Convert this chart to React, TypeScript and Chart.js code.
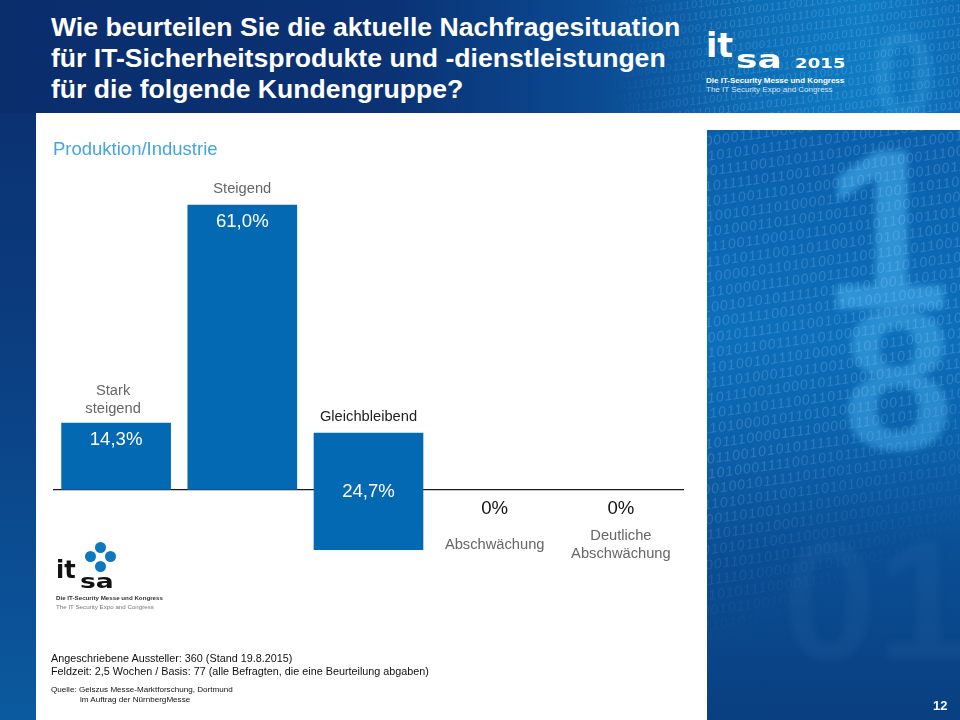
import React, { useEffect, useRef } from "react";
import { Chart, registerables } from "chart.js";

Chart.register(...registerables);

const categories: string[][] = [["Stark", "steigend"], ["Steigend"], ["Gleichbleibend"], ["Abschwächung"], ["Deutliche", "Abschwächung"]];
const barHigh = [14.3, 61.0, 12.2, 0, 0];
const barLow = [0, 0, -12.8, 0, 0];
const valueLabels = ["14,3%", "61,0%", "24,7%", "0%", "0%"];
const titleLines = ["Wie beurteilen Sie die aktuelle Nachfragesituation", "für IT-Sicherheitsprodukte und -dienstleistungen", "für die folgende Kundengruppe?"];
const binaryRows = [
  "00110001010111001100010111001010110001101010100011011010111001101100",
  "10101000110110101110011011001010101110010100101111010000101101010011",
  "01001011110100001011010100111001101011001011001010111000011110000111",
  "10110010101110000111100001110010110100110110100101100101010111110110",
  "01101001011001010101111101101010011101011101011010100011110010101110",
  "11010110101000111100101011101001100101100010011001001011111011001011",
  "00100110010010111110110010110110101000111001101110101011001110101000",
  "10011011101010110011101010001101011100100111001001101001011101000011",
  "01110010011010010111010000110101100111011010111110111010001101100100",
  "10101111101110100011011001001101010001110011000101011100110001011100",
];
const FONT = "'Liberation Sans', Arial, sans-serif";
const WIDE = "'DejaVu Sans', sans-serif";

const labelPlugin = {
  id: "barTexts",
  afterDatasetsDraw(chart: any) {
    const { ctx, scales } = chart;
    const y0 = scales.y.getPixelForValue(0);
    ctx.save();
    ctx.textAlign = "center";
    ctx.textBaseline = "middle";
    categories.forEach((lines, i) => {
      const x = scales.x.getPixelForValue(i);
      const top = scales.y.getPixelForValue(barHigh[i]);
      const isZero = barHigh[i] === 0;
      const crosses = barLow[i] < 0;
      ctx.font = `18.6px ${FONT}`;
      ctx.fillStyle = isZero ? "#111111" : "#ffffff";
      ctx.fillText(valueLabels[i], x, isZero ? y0 + 18.5 : crosses ? y0 + 1.5 : top + 16.5);
      ctx.font = `14.7px ${FONT}`;
      ctx.fillStyle = crosses ? "#222222" : "#666666";
      lines.forEach((line, k) => {
        const ly = isZero
          ? y0 + 55 + (k - (lines.length - 1) / 2) * 18
          : top - (lines.length > 1 ? 14 : 16) - (lines.length - 1 - k) * 18;
        ctx.fillText(line, !isZero && lines.length > 1 ? x - 3 : x, ly);
      });
    });
    ctx.restore();
  },
};

const abs = (left: number, top: number, extra: React.CSSProperties = {}): React.CSSProperties => ({
  position: "absolute", left, top, whiteSpace: "nowrap", ...extra,
});

function Binary({ size, opacity, angle }: { size: number; opacity: number; angle: number }) {
  const rows: string[] = [];
  for (let r = 0; r < 6; r++) binaryRows.forEach((b) => rows.push(b));
  return (
    <div style={{ position: "absolute", left: -60, top: -70, transform: `rotate(${angle}deg)`, fontFamily: FONT, fontStyle: "italic", fontSize: size, lineHeight: `${size + 1}px`, letterSpacing: 1, color: `rgba(190,225,255,${opacity})` }}>
      {rows.map((r, i) => <div key={i}>{r}</div>)}
    </div>
  );
}

function Ghost({ text, left, top, size, color }: { text: string; left: number; top: number; size: number; color: string }) {
  return <div style={abs(left, top, { fontFamily: FONT, fontWeight: 700, fontSize: size, lineHeight: 1, color, filter: "blur(3px)" })}>{text}</div>;
}

export default function App() {
  const ref = useRef<HTMLCanvasElement>(null);
  useEffect(() => {
    const chart = new Chart(ref.current!, {
      type: "bar",
      data: {
        labels: categories.map((c) => c.join(" ")),
        datasets: [{
          data: barHigh.map((h, i) => (h === barLow[i] ? null : [barLow[i], h])),
          backgroundColor: "#0469B3",
          borderWidth: 0,
          barThickness: 109,
        }],
      },
      options: {
        animation: false,
        responsive: false,
        layout: { padding: { left: 53, right: 276, top: 186.3, bottom: 136.6 } },
        plugins: { legend: { display: false }, tooltip: { enabled: false } },
        scales: {
          x: { display: false },
          y: {
            min: -20, max: 65,
            ticks: { display: false, stepSize: 5 },
            border: { display: false },
            grid: {
              drawTicks: false,
              lineWidth: 1.3,
              color: (c: any) => (c.tick && c.tick.value === 0 ? "#1a1a1a" : "rgba(0,0,0,0)"),
            },
          },
        },
      },
      plugins: [labelPlugin],
    } as any);
    return () => chart.destroy();
  }, []);

  return (
    <div style={{ position: "fixed", left: 0, top: 0, width: 960, height: 720, overflow: "hidden", fontFamily: FONT, background: "linear-gradient(180deg,#0a2d6c 0%,#0b3a7c 40%,#0b5197 85%,#0b5a9f 100%)" }}>
      {/* header band */}
      <div style={{ position: "absolute", left: 0, top: 0, width: 960, height: 113, overflow: "hidden", background: "linear-gradient(90deg,#0a2d6c 0%,#0a3274 40%,#0b4a92 62%,#0c6db5 78%,#0f7cc4 90%,#0c6cb6 100%)" }}>
        <div style={{ position: "absolute", left: 600, top: 0, width: 360, height: 113, overflow: "hidden", WebkitMaskImage: "linear-gradient(90deg,transparent 0%,black 35%)", maskImage: "linear-gradient(90deg,transparent 0%,black 35%)" }}>
          <Ghost text="0" left={270} top={15} size={120} color="rgba(90,190,245,0.2)" />
          <Binary size={11} opacity={0.2} angle={-7} />
        </div>
      </div>
      {titleLines.map((t, i) => (
        <div key={i} style={abs(51, 12 + i * 31, { color: "#fff", fontWeight: 700, fontSize: 26.6, lineHeight: "31px" })}>{t}</div>
      ))}
      {/* top logo */}
      <div style={abs(706, 29, { color: "#fff", fontWeight: 700, fontFamily: WIDE, fontSize: 33, lineHeight: "34px" })}>it</div>
      <div style={abs(736, 47, { color: "#fff", fontWeight: 700, fontFamily: WIDE, fontSize: 25, lineHeight: "26px", transform: "scaleX(1.45)", transformOrigin: "left" })}>sa</div>
      <div style={abs(795, 55, { color: "#fff", fontWeight: 700, fontFamily: WIDE, fontSize: 14, lineHeight: "16px", transform: "scaleX(1.3)", transformOrigin: "left" })}>2015</div>
      <div style={abs(706, 76, { color: "#fff", fontWeight: 700, fontSize: 8, lineHeight: "10px" })}>Die IT-Security Messe und Kongress</div>
      <div style={abs(706, 85, { color: "#d5e6f5", fontSize: 8, lineHeight: "10px" })}>The IT Security Expo and Congress</div>

      {/* white slide */}
      <div style={{ position: "absolute", left: 36, top: 113, width: 924, height: 607, background: "#fff" }} />

      {/* right picture */}
      <div style={{ position: "absolute", left: 707, top: 130, width: 253, height: 590, overflow: "hidden", background: "linear-gradient(180deg,#0a5fab 0%,#0d6fbb 35%,#0b62ac 52%,#0a4e94 72%,#093f80 100%)" }}>
        <Ghost text="1" left={115} top={-15} size={230} color="rgba(70,175,235,0.6)" />
        <Ghost text="8" left={135} top={150} size={200} color="rgba(70,175,235,0.5)" />
        <Ghost text="01" left={75} top={385} size={170} color="rgba(90,150,210,0.08)" />
        <div style={{ position: "absolute", inset: 0, WebkitMaskImage: "linear-gradient(155deg,black 0%,black 50%,transparent 75%)", maskImage: "linear-gradient(155deg,black 0%,black 50%,transparent 75%)" }}>
          <Binary size={14} opacity={0.2} angle={-8} />
        </div>
      </div>

      <canvas ref={ref} width={960} height={720} style={{ position: "absolute", left: 0, top: 0, display: "block" }} />

      <div style={abs(53, 138, { color: "#45A6DE", fontSize: 18.5, lineHeight: "21px" })}>Produktion/Industrie</div>

      {/* bottom logo */}
      <div style={{ position: "absolute", left: 94.5, top: 541.5, width: 11, height: 11, borderRadius: "50%", background: "#0E78BE" }} />
      <div style={{ position: "absolute", left: 85, top: 551, width: 11, height: 11, borderRadius: "50%", background: "#0E78BE" }} />
      <div style={{ position: "absolute", left: 104.5, top: 551, width: 11, height: 11, borderRadius: "50%", background: "#0E78BE" }} />
      <div style={{ position: "absolute", left: 94.5, top: 561, width: 11, height: 11, borderRadius: "50%", background: "#0E78BE" }} />
      <div style={abs(56, 557, { color: "#111", fontWeight: 700, fontFamily: WIDE, fontSize: 24, lineHeight: "26px" })}>it</div>
      <div style={abs(80, 571, { color: "#111", fontWeight: 700, fontFamily: WIDE, fontSize: 19, lineHeight: "21px", transform: "scaleX(1.4)", transformOrigin: "left" })}>sa</div>
      <div style={abs(56, 593, { color: "#333", fontWeight: 700, fontSize: 6.2, lineHeight: "9px" })}>Die IT-Security Messe und Kongress</div>
      <div style={abs(56, 602, { color: "#777", fontSize: 6.2, lineHeight: "9px" })}>The IT Security Expo and Congress</div>

      {/* notes */}
      <div style={abs(51, 651, { color: "#111", fontSize: 10.8, lineHeight: "14px" })}>Angeschriebene Aussteller: 360 (Stand 19.8.2015)</div>
      <div style={abs(51, 664, { color: "#111", fontSize: 10.8, lineHeight: "14px" })}>Feldzeit: 2,5 Wochen / Basis: 77 (alle Befragten, die eine Beurteilung abgaben)</div>
      <div style={abs(51, 684, { color: "#111", fontSize: 8.1, lineHeight: "11px" })}>Quelle: Gelszus Messe-Marktforschung, Dortmund</div>
      <div style={abs(80, 694, { color: "#111", fontSize: 8.1, lineHeight: "11px" })}>im Auftrag der NürnbergMesse</div>
      <div style={abs(933, 698, { color: "#fff", fontWeight: 700, fontSize: 13, lineHeight: "15px" })}>12</div>
    </div>
  );
}
